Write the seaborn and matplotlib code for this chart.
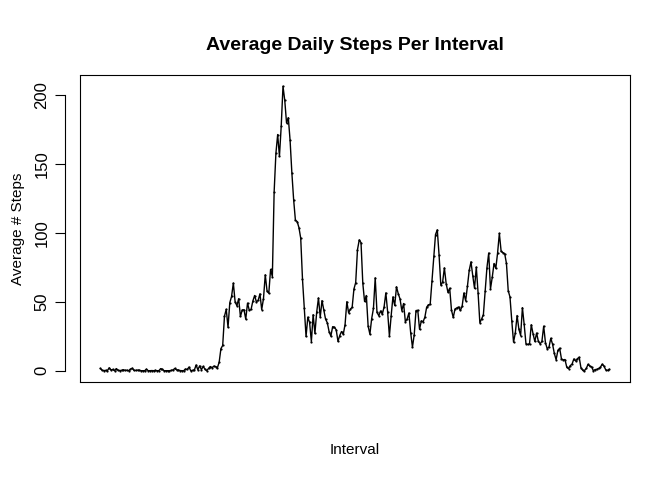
import numpy as np
import pandas as pd
import seaborn as sns
import matplotlib
matplotlib.use("Agg")
import matplotlib.pyplot as plt

# average steps for each 5 minute interval
avg_steps = [
    1.7, 0.3, 0.1, 0.2, 0.1, 2.1, 0.5, 0.9, 0.0, 1.5, 0.3, 0.1, 0.3, 0.7, 0.2, 0.3,
    0.0, 1.1, 1.8, 0.2, 0.2, 0.4, 0.3, 0.0, 0.0, 0.0, 1.1, 0.0, 0.0, 0.1, 0.0, 0.2,
    0.0, 0.0, 1.5, 0.9, 0.0, 0.0, 0.0, 0.0, 0.2, 0.6, 1.6, 0.6, 0.5, 0.1, 0.0, 0.0,
    1.2, 0.9, 2.6, 0.0, 0.3, 0.4, 4.1, 0.7, 3.5, 0.8, 3.1, 1.1, 0.0, 1.6, 3.0, 2.2,
    3.3, 3.0, 2.1, 6.1, 16.0, 18.3, 39.5, 44.5, 31.5, 49.3, 53.8, 63.5, 50.0, 47.1,
    52.2, 39.3, 44.0, 44.2, 37.4, 49.0, 43.8, 44.4, 50.5, 54.5, 49.9, 51.0, 55.7,
    44.3, 52.3, 69.5, 57.8, 56.2, 73.4, 68.2, 129.4, 157.5, 171.2, 155.4, 177.3,
    206.2, 195.9, 179.6, 183.4, 167.0, 143.5, 124.0, 109.1, 108.1, 103.7, 96.0,
    66.2, 45.2, 24.8, 38.8, 35.0, 21.1, 40.6, 27.0, 42.4, 52.7, 38.9, 50.8, 44.3,
    37.4, 34.7, 28.3, 25.1, 31.9, 31.4, 29.7, 21.3, 25.5, 28.4, 26.5, 33.4, 50.0,
    42.0, 44.6, 46.0, 59.2, 63.9, 87.7, 94.8, 92.8, 63.4, 50.2, 54.5, 32.4, 26.5,
    37.7, 45.1, 67.3, 42.3, 39.9, 43.3, 41.0, 46.2, 56.4, 42.8, 25.1, 40.0, 53.5,
    47.3, 60.8, 55.8, 52.0, 43.6, 48.7, 35.5, 37.5, 41.8, 27.5, 17.1, 26.1, 43.6,
    43.8, 30.0, 36.1, 35.5, 38.8, 46.0, 47.8, 48.1, 65.3, 82.9, 98.7, 102.1, 84.0,
    62.1, 64.1, 74.5, 63.2, 56.9, 59.8, 43.9, 38.6, 44.7, 45.5, 46.2, 43.7, 46.6,
    56.3, 50.7, 61.2, 72.7, 78.9, 68.9, 59.7, 75.1, 56.5, 34.8, 37.5, 40.7, 58.0,
    74.7, 85.3, 59.3, 67.8, 77.7, 74.2, 85.3, 99.5, 86.6, 85.6, 84.9, 77.8, 58.0,
    53.4, 36.3, 20.7, 27.4, 40.0, 30.2, 25.5, 45.7, 33.5, 19.6, 19.0, 19.3, 33.3,
    26.8, 21.2, 27.3, 21.3, 19.5, 21.3, 32.3, 20.2, 15.9, 17.2, 23.5, 19.2, 12.5,
    8.0, 14.7, 16.3, 8.7, 7.8, 8.1, 2.6, 1.5, 3.7, 4.8, 8.5, 7.1, 8.7, 9.8, 2.2,
    0.3, 0.1, 1.6, 4.6, 3.3, 2.8, 0.0, 0.8, 1.0, 1.6, 2.6, 4.7, 3.3, 0.6, 0.2, 1.1,
]
y_ticks = [0, 50, 100, 150, 200]

df = pd.DataFrame({"interval": np.arange(1, len(avg_steps) + 1), "steps": avg_steps})

sns.set_style("ticks", {"text.color": "black", "axes.labelcolor": "black",
                        "ytick.color": "black", "axes.edgecolor": "black"})
plt.rcParams["font.family"] = ["Liberation Sans", "DejaVu Sans"]

fig = plt.figure(figsize=(6.72, 4.8), dpi=100)
ax = fig.add_axes([0.119, 0.204, 0.818, 0.64])

sns.lineplot(data=df, x="interval", y="steps", color="black", linewidth=1.0,
             marker="o", markersize=1.6, markeredgewidth=0, ax=ax)

for s in ax.spines.values():
    s.set_linewidth(0.8)
    s.set_color("black")
# R style: y axis detached from the box (set before ticks, it resets them)
ax.spines["left"].set_position(("outward", 11))
ax.plot([0, 0], [0, 1], transform=ax.transAxes, color="black", lw=0.8, clip_on=False)

n = len(avg_steps)
pad = (n - 1) * 0.04
ax.set_xlim(1 - pad, n + pad)
ymax = max(avg_steps)
ax.set_ylim(-ymax * 0.04, ymax * 1.04)
ax.spines["left"].set_bounds(0, 200)
ax.set_xticks([])
ax.set_yticks(y_ticks)
ax.set_yticklabels([str(t) for t in y_ticks], rotation=90, va="center", fontsize=12)
ax.tick_params(axis="y", length=7, width=0.8, pad=4, colors="black")

ax.set_title("Average Daily Steps Per Interval", fontsize=14, fontweight="bold", pad=18)
ax.set_xlabel("Interval", fontsize=11, labelpad=44)
ax.set_ylabel("Average # Steps", fontsize=11, labelpad=7)

plt.savefig("out.png", dpi=100)
